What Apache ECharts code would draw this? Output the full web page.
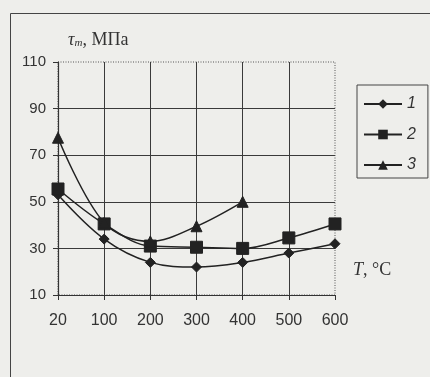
<!DOCTYPE html>
<html>
<head>
<meta charset="utf-8">
<script src="https://cdn.jsdelivr.net/npm/echarts@6/dist/echarts.min.js"></script>
<style>
html,body{margin:0;padding:0;background:#eeeeeb;}
#c{width:430px;height:377px;}
</style>
</head>
<body>
<div id="c"></div>
<script>
const categories = ['20','100','200','300','400','500','600'];
const series1 = [53, 34, 24, 22, 24, 28, 32];
const series2 = [55.5, 40.5, 31, 30.5, 30, 34.5, 40.5];
const series3 = [77.5, 41, 33, 39.5, 50, null, null];
const seriesNames = ['1', '2', '3'];
const yTicks = {min: 10, max: 110, interval: 20};

const lineColor = '#222';
const chart = echarts.init(document.getElementById('c'), null, {renderer: 'canvas'});
function mk(name, data, symbol, size) {
  return {
    name: name, type: 'line', data: data, smooth: 0.35,
    symbol: symbol, symbolSize: size, showAllSymbol: true,
    lineStyle: {color: lineColor, width: 1.5},
    itemStyle: {color: lineColor, borderColor: lineColor},
    emphasis: {disabled: true}
  };
}
chart.setOption({
  backgroundColor: '#eeeeeb',
  animation: false,
  grid: {left: 58, right: 95, top: 62, bottom: 82, show: true,
    borderColor: '#555', borderWidth: 1, borderType: [1, 1.5], backgroundColor: 'transparent'},
  xAxis: {
    type: 'category', data: categories, boundaryGap: false,
    axisLine: {lineStyle: {color: '#333', width: 1.2}},
    axisTick: {show: true, length: 5, inside: false, lineStyle: {color: '#333'}},
    axisLabel: {color: '#333', fontFamily: 'Liberation Sans', fontSize: 16, margin: 18},
    splitLine: {show: true, showMinLine: false, showMaxLine: false, lineStyle: {color: '#3a3a3a', width: 1}}
  },
  yAxis: {
    type: 'value', min: yTicks.min, max: yTicks.max, interval: yTicks.interval,
    axisLine: {show: true, lineStyle: {color: '#333', width: 1.2}},
    axisTick: {show: true, length: 5, lineStyle: {color: '#333'}},
    axisLabel: {color: '#333', fontFamily: 'Liberation Sans', fontSize: 15, margin: 12},
    splitLine: {show: true, showMinLine: false, showMaxLine: false, lineStyle: {color: '#3a3a3a', width: 1}}
  },
  legend: {
    orient: 'vertical', left: 357, top: 85, data: seriesNames,
    itemWidth: 38, itemHeight: 12, itemGap: 14.5,
    padding: [11, 12, 5, 6],
    borderColor: '#444', borderWidth: 1,
    textStyle: {color: '#333', fontFamily: 'Liberation Sans', fontSize: 16, fontStyle: 'italic'}
  },
  graphic: [
    {type: 'rect', shape: {x: 10.5, y: 13.5, width: 440, height: 400}, style: {fill: 'none', stroke: '#444', lineWidth: 1}, silent: true},
    {type: 'text', left: 68, top: 31, style: {
      text: '{t|τ}{s|m}{n|, МПа}',
      rich: {
        t: {fontFamily: 'Liberation Serif', fontStyle: 'italic', fontSize: 18, fill: '#333'},
        s: {fontFamily: 'Liberation Serif', fontStyle: 'italic', fontSize: 11, fill: '#333', verticalAlign: 'bottom', padding: [6, 0, 0, 0]},
        n: {fontFamily: 'Liberation Serif', fontSize: 18, fill: '#333'}
      }
    }},
    {type: 'text', left: 353, top: 261, style: {
      text: '{t|T}{n|, °C}',
      rich: {
        t: {fontFamily: 'Liberation Serif', fontStyle: 'italic', fontSize: 18, fill: '#333'},
        n: {fontFamily: 'Liberation Serif', fontSize: 18, fill: '#333'}
      }
    }}
  ],
  series: [
    mk(seriesNames[0], series1, 'diamond', 10),
    mk(seriesNames[1], series2, 'rect', 12),
    mk(seriesNames[2], series3, 'triangle', 11)
  ]
});
</script>
</body>
</html>
